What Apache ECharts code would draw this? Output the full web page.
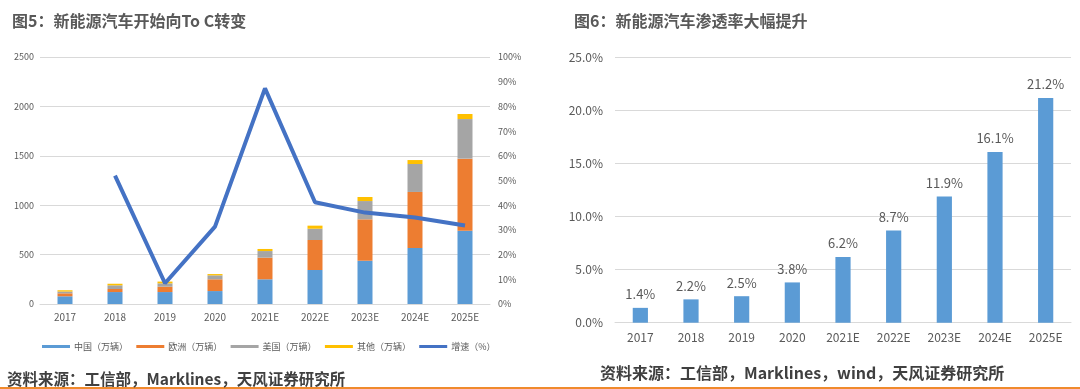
<!DOCTYPE html>
<html><head><meta charset="utf-8">
<script src="https://cdn.jsdelivr.net/npm/echarts@6/dist/echarts.min.js"></script>
<style>html,body{margin:0;padding:0;background:#fff;}#c{width:1080px;height:389px;}</style>
</head><body><div id="c"></div>
<script>
var years = ['2017','2018','2019','2020','2021E','2022E','2023E','2024E','2025E'];
var china = [78, 121, 121, 131, 250, 344, 438, 567, 742];
var europe = [30, 31, 54, 119, 219, 304, 419, 567, 729];
var usa = [18, 37, 34, 40, 67, 114, 185, 283, 401];
var other = [13, 16, 18, 13, 21, 31, 41, 40, 51];
var growth = [null, 52, 8.4, 31.3, 87.3, 41.2, 37, 35, 31.8];
var penetration = [1.4, 2.2, 2.5, 3.8, 6.2, 8.7, 11.9, 16.1, 21.2];
var leftTicks = [0, 500, 1000, 1500, 2000, 2500];
var rightTicksPct = [0, 10, 20, 30, 40, 50, 60, 70, 80, 90, 100];
var penTicks = [0, 5, 10, 15, 20, 25];

var FONT = '"Noto Sans CJK SC", "Noto Sans", sans-serif';
var axisGray = '#595959';
var chart = echarts.init(document.getElementById('c'), null, {renderer: 'canvas'});
function barS(name, data, color) {
  return {name: name, type: 'bar', stack: 'total', xAxisIndex: 0, yAxisIndex: 0, data: data,
    barWidth: '30%', itemStyle: {color: color}, emphasis: {disabled: true}};
}
var option = {
  animation: false,
  textStyle: {fontFamily: FONT},
  title: [
    {text: '图5：新能源汽车开始向To C转变', left: 7, top: 8,
      textStyle: {fontSize: 16, fontWeight: 'bold', color: '#595959', fontFamily: FONT}},
    {text: '图6：新能源汽车渗透率大幅提升', left: 569, top: 8,
      textStyle: {fontSize: 16, fontWeight: 'bold', color: '#595959', fontFamily: FONT}},
    {text: '资料来源：工信部，Marklines，天风证券研究所', left: 2, top: 366,
      textStyle: {fontSize: 15.5, fontWeight: 'bold', color: '#404040', fontFamily: FONT}},
    {text: '资料来源：工信部，Marklines，wind，天风证券研究所', left: 595, top: 360,
      textStyle: {fontSize: 16, fontWeight: 'bold', color: '#404040', fontFamily: FONT}}
  ],
  legend: {
    left: 37, top: 337, itemWidth: 28, itemHeight: 3, itemGap: 8.3, icon: 'rect',
    textStyle: {fontSize: 9, color: axisGray, fontFamily: FONT, padding: [0,0,0,-1]},
    data: ['中国（万辆）','欧洲（万辆）','美国（万辆）','其他（万辆）','增速（%）']
  },
  grid: [
    {left: 40, right: 590, top: 57, bottom: 85},
    {left: 615, right: 9, top: 57.7, bottom: 66.3}
  ],
  xAxis: [
    {type: 'category', gridIndex: 0, data: years,
      axisLine: {lineStyle: {color: '#d9d9d9', width: 1}}, axisTick: {show: false},
      axisLabel: {color: axisGray, fontSize: 10, margin: 8}},
    {type: 'category', gridIndex: 1, data: years,
      axisLine: {lineStyle: {color: '#d9d9d9', width: 1}}, axisTick: {show: false},
      axisLabel: {color: axisGray, fontSize: 12, margin: 9}}
  ],
  yAxis: [
    {type: 'value', gridIndex: 0, min: leftTicks[0], max: leftTicks[leftTicks.length-1], interval: 500,
      axisLine: {show: false}, axisTick: {show: false},
      axisLabel: {color: axisGray, fontSize: 9, margin: 6, formatter: function(v){return String(v);}},
      splitLine: {lineStyle: {color: '#d9d9d9', width: 1}}},
    {type: 'value', gridIndex: 0, position: 'right', min: rightTicksPct[0], max: rightTicksPct[rightTicksPct.length-1], interval: 10,
      axisLine: {show: false}, axisTick: {show: false}, splitLine: {show: false},
      axisLabel: {color: axisGray, fontSize: 9, margin: 8, formatter: '{value}%'}},
    {type: 'value', gridIndex: 1, min: penTicks[0], max: penTicks[penTicks.length-1], interval: 5,
      axisLine: {show: false}, axisTick: {show: false},
      axisLabel: {color: axisGray, fontSize: 12, margin: 12, formatter: function(v){return v.toFixed(1)+'%';}},
      splitLine: {lineStyle: {color: '#d9d9d9', width: 1}}}
  ],
  series: [
    barS('中国（万辆）', china, '#5B9BD5'),
    barS('欧洲（万辆）', europe, '#ED7D31'),
    barS('美国（万辆）', usa, '#A5A5A5'),
    barS('其他（万辆）', other, '#FFC000'),
    {name: '增速（%）', type: 'line', xAxisIndex: 0, yAxisIndex: 1, data: growth,
      symbol: 'none', lineStyle: {color: '#4472C4', width: 4}, itemStyle: {color: '#4472C4'},
      emphasis: {disabled: true}},
    {name: '渗透率', type: 'bar', xAxisIndex: 1, yAxisIndex: 2, data: penetration,
      barWidth: '30%', itemStyle: {color: '#5B9BD5'},
      label: {show: true, position: 'top', distance: 7, color: axisGray, fontSize: 13,
        formatter: function(p){return p.value.toFixed(1)+'%';}},
      emphasis: {disabled: true}}
  ],
  graphic: [
    {type: 'rect', shape: {x: 0, y: 387, width: 1080, height: 2}, style: {fill: '#F08A2C'}, silent: true}
  ]
};
chart.setOption(option);
</script></body></html>
